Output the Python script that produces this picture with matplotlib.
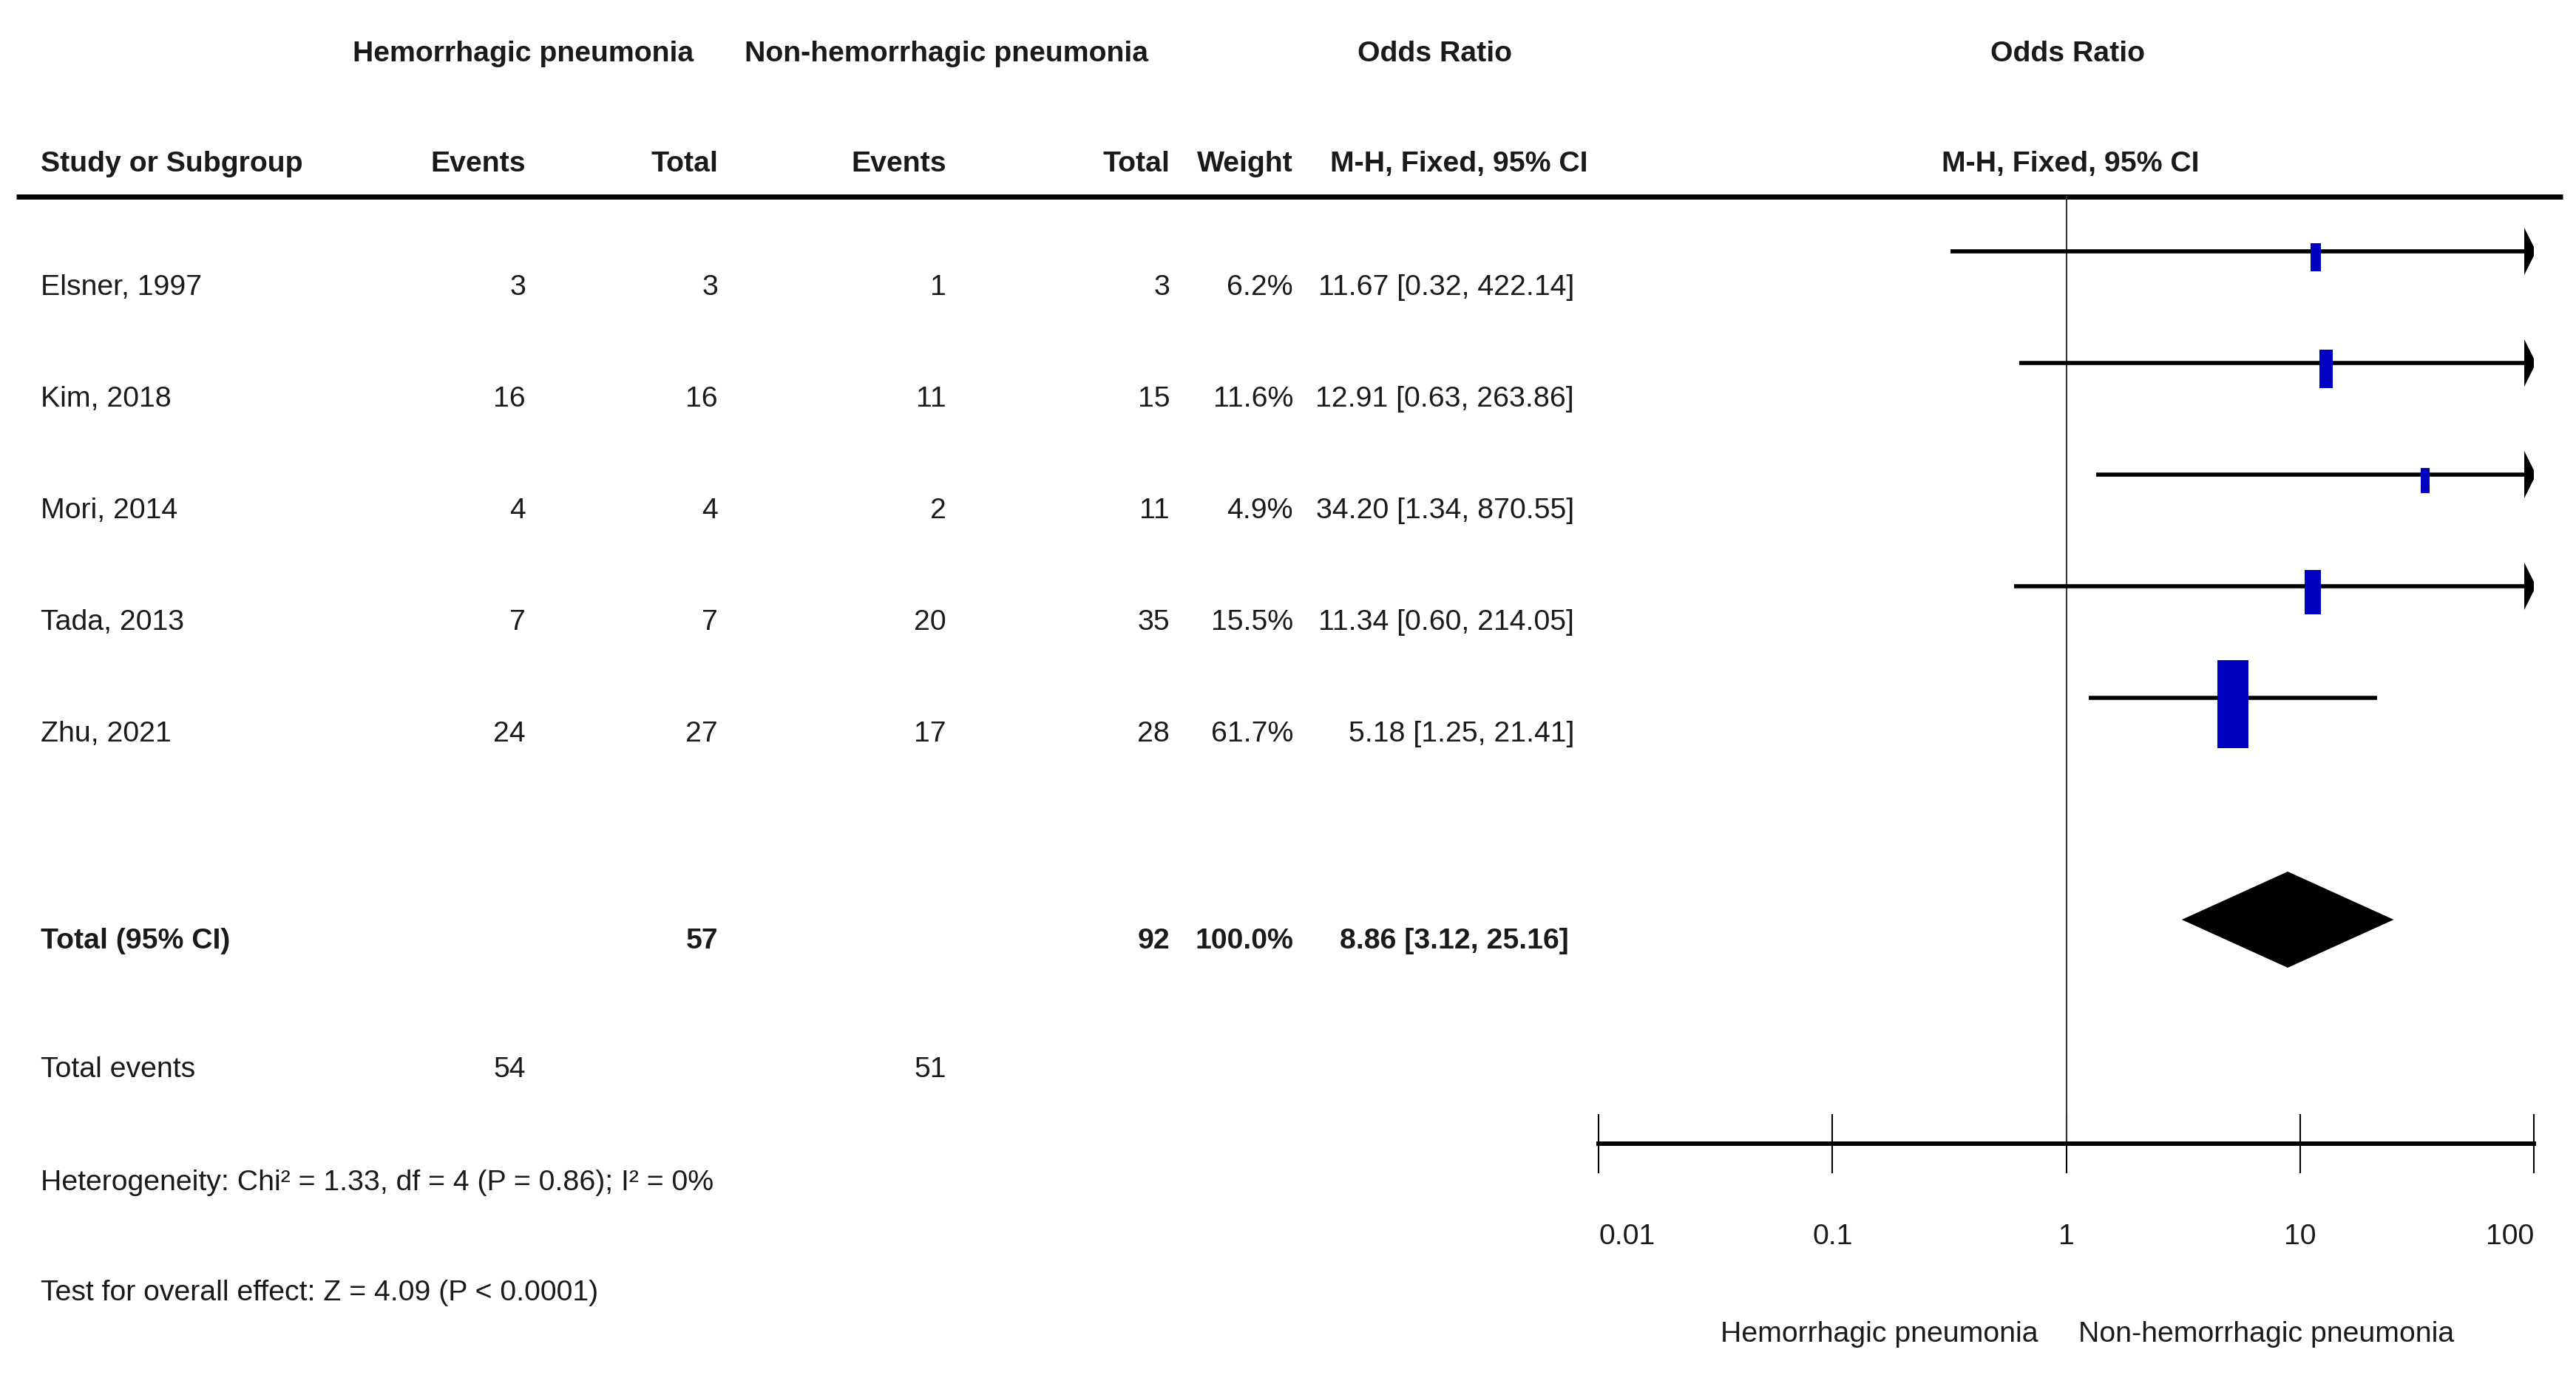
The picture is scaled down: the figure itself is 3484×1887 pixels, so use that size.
import matplotlib
matplotlib.use("Agg")
import numpy as np
import matplotlib.pyplot as plt
from matplotlib import font_manager
from matplotlib.patches import Rectangle, Polygon

# study data
studies = ["Elsner, 1997", "Kim, 2018", "Mori, 2014", "Tada, 2013", "Zhu, 2021"]
hp_events = [3, 16, 4, 7, 24]
hp_total = [3, 16, 4, 7, 27]
nhp_events = [1, 11, 2, 20, 17]
nhp_total = [3, 15, 11, 35, 28]
weights = [6.2, 11.6, 4.9, 15.5, 61.7]
odds = [11.67, 12.91, 34.20, 11.34, 5.18]
ci_low = [0.32, 0.63, 1.34, 0.60, 1.25]
ci_high = [422.14, 263.86, 870.55, 214.05, 21.41]

# pooled
tot_hp, tot_nhp = 57, 92
ev_hp, ev_nhp = 54, 51
tot_weight = 100.0
pooled_or, pooled_lo, pooled_hi = 8.86, 3.12, 25.16
het_text = "Heterogeneity: Chi² = 1.33, df = 4 (P = 0.86); I² = 0%"
effect_text = "Test for overall effect: Z = 4.09 (P < 0.0001)"

ticks = [0.01, 0.1, 1, 10, 100]
tick_labels = ["0.01", "0.1", "1", "10", "100"]

# font: narrow if we have it
names = {f.name for f in font_manager.fontManager.ttflist}
if "Liberation Sans Narrow" in names:
    FONT, FS = "Liberation Sans Narrow", 34.5
else:
    FONT, FS = "Liberation Sans", 28.3
plt.rcParams["font.family"] = [FONT, "DejaVu Sans"]
TC = "#1a1a1a"

W, H = 3484, 1887
fig = plt.figure(figsize=(W / 100, H / 100), dpi=100)
ax = fig.add_axes([0, 0, 1, 1])
ax.set_xlim(0, W)
ax.set_ylim(H, 0)
ax.axis("off")

def txt(x, y, s, ha="right", bold=False, size=FS):
    ax.text(x, y, s, ha=ha, va="center", fontsize=size, color=TC,
            fontweight="bold" if bold else "normal")

# headers
txt(708, 73, "Hemorrhagic pneumonia", ha="center", bold=True)
txt(1280, 73, "Non-hemorrhagic pneumonia", ha="center", bold=True)
txt(1940, 73, "Odds Ratio", ha="center", bold=True)
txt(2796, 73, "Odds Ratio", ha="center", bold=True)
txt(55, 222, "Study or Subgroup", ha="left", bold=True)
txt(711, 222, "Events", bold=True)
txt(971, 222, "Total", bold=True)
txt(1280, 222, "Events", bold=True)
txt(1582, 222, "Total", bold=True)
txt(1749, 222, "Weight", bold=True)
txt(2147, 222, "M-H, Fixed, 95% CI", bold=True)
txt(2800, 222, "M-H, Fixed, 95% CI", ha="center", bold=True)
ax.plot([22, 3466], [266, 266], color="black", lw=5, solid_capstyle="butt")

row_y = [389, 540, 691, 842, 993]
for i, y in enumerate(row_y):
    txt(55, y, studies[i], ha="left")
    txt(711, y, str(hp_events[i]))
    txt(971, y, str(hp_total[i]))
    txt(1280, y, str(nhp_events[i]))
    txt(1582, y, str(nhp_total[i]))
    txt(1749, y, f"{weights[i]:.1f}%")
    txt(2129, y, f"{odds[i]:.2f} [{ci_low[i]:.2f}, {ci_high[i]:.2f}]")

y_tot = 1273
txt(55, y_tot, "Total (95% CI)", ha="left", bold=True)
txt(971, y_tot, str(tot_hp), bold=True)
txt(1582, y_tot, str(tot_nhp), bold=True)
txt(1749, y_tot, f"{tot_weight:.1f}%", bold=True)
txt(2122, y_tot, f"{pooled_or:.2f} [{pooled_lo:.2f}, {pooled_hi:.2f}]", bold=True)
txt(55, 1447, "Total events", ha="left")
txt(711, 1447, str(ev_hp))
txt(1280, 1447, str(ev_nhp))
txt(55, 1600, het_text, ha="left")
txt(55, 1749, effect_text, ha="left")
txt(2757, 1805, "Hemorrhagic pneumonia", ha="right")
txt(2811, 1805, "Non-hemorrhagic pneumonia", ha="left")

# forest panel
x0, x1 = 2162, 3427
ax2 = fig.add_axes([x0 / W, 0, (x1 - x0) / W, 1])
ax2.set_xscale("log")
ax2.set_xlim(0.01, 100)
ax2.set_ylim(H, 0)
ax2.patch.set_alpha(0)
for s in ["top", "left", "right"]:
    ax2.spines[s].set_visible(False)
ax2.spines["bottom"].set_position(("data", 1547))
ax2.spines["bottom"].set_linewidth(4.3)
ax2.set_yticks([])
ax2.set_xticks(ticks)
ax2.set_xticklabels(tick_labels)
ax2.xaxis.set_minor_locator(matplotlib.ticker.NullLocator())
ax2.tick_params(axis="x", direction="inout", length=58, width=1.5,
                pad=49, labelsize=FS, labelcolor=TC)
labs = ax2.get_xticklabels()
labs[0].set_ha("left")
labs[-1].set_ha("right")

px_dec = (x1 - x0) / 4.0
def mult(px):
    return 10 ** (px / px_dec)

ax2.plot([1, 1], [266, 1547], color="#333333", lw=1.5)

line_y = [y - 49 for y in row_y]
wmax = max(weights)
for i, y in enumerate(line_y):
    lo = max(ci_low[i], 0.01)
    hi = ci_high[i]
    if hi > 100:
        base = 100 / mult(13)
        ax2.plot([lo, base], [y, y], color="black", lw=4, solid_capstyle="butt")
        ax2.add_patch(Polygon([[base, y - 32], [100 * mult(3), y], [base, y + 32]],
                              closed=True, color="black", lw=0))
    else:
        ax2.plot([lo, hi], [y, y], color="black", lw=4, solid_capstyle="butt")
    f = np.sqrt(weights[i] / wmax)
    hw, hh = 21 * f, 59.5 * f
    yc = y + 8
    ax2.add_patch(Rectangle((odds[i] / mult(hw), yc - hh),
                            odds[i] * mult(hw) - odds[i] / mult(hw), 2 * hh,
                            facecolor="#0000c0", edgecolor="none", zorder=3))

yd = 1244
ax2.add_patch(Polygon([[pooled_lo, yd], [pooled_or, yd - 65],
                       [pooled_hi, yd], [pooled_or, yd + 65]],
                      closed=True, facecolor="black", edgecolor="none"))

fig.savefig("out.png", dpi=100)
